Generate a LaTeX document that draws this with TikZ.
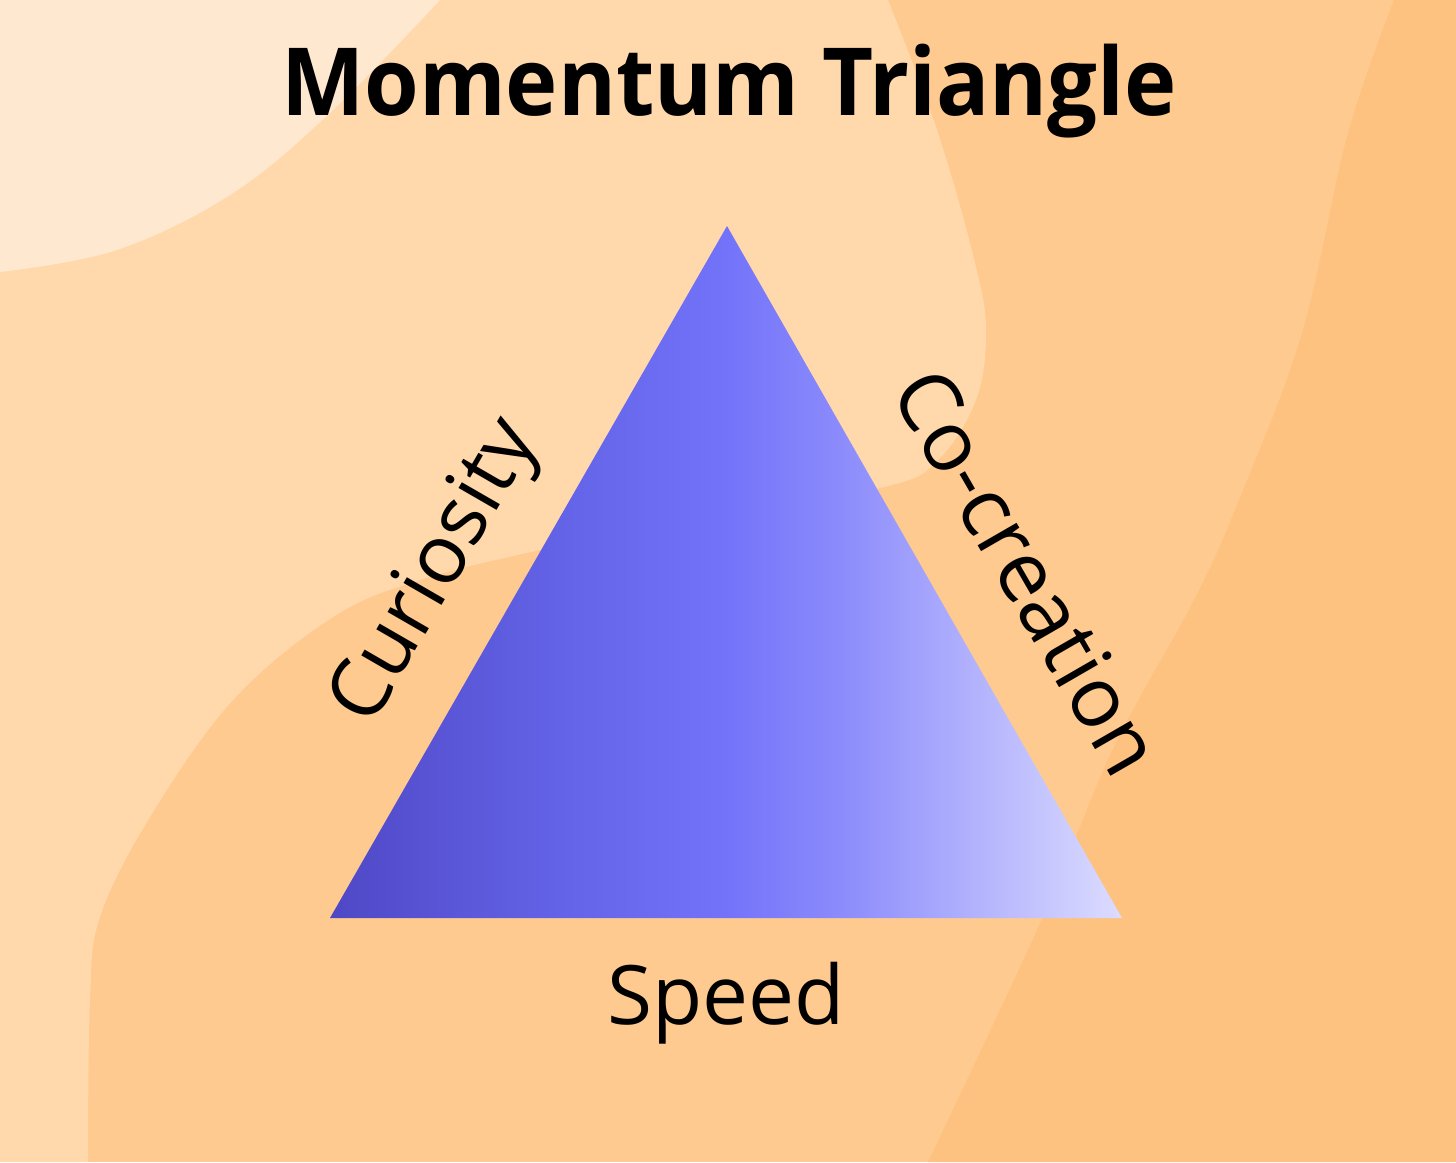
\documentclass[tikz,border=0pt]{standalone}
\usepackage{fontspec}
\setmainfont{Open Sans}
\newfontfamily\titlefont[FakeStretch=0.94]{Open Sans}
\usetikzlibrary{calc}
\definecolor{bgLightest}{RGB}{255,232,208}
\definecolor{bgLight}{RGB}{255,217,171}
\definecolor{bgMid}{RGB}{255,202,143}
\definecolor{bgDark}{RGB}{254,194,128}
\pgfdeclarehorizontalshading{trishade}{100bp}{%
  rgb(0bp)=(0.310,0.282,0.776);
  rgb(25bp)=(0.310,0.282,0.776);
  rgb(40bp)=(0.392,0.392,0.910);
  rgb(50bp)=(0.451,0.451,0.980);
  rgb(57.5bp)=(0.550,0.550,0.988);
  rgb(65bp)=(0.686,0.686,0.992);
  rgb(75bp)=(0.863,0.863,1.000);
  rgb(100bp)=(0.863,0.863,1.000)}
\tikzset{
  lbl/.style={font=\fontsize{82}{82}\selectfont, text=black, inner sep=0pt},
  ttl/.style={font=\titlefont\fontsize{94}{94}\selectfont\bfseries, text=black, inner sep=0pt}
}
\begin{document}
\begin{tikzpicture}[x=1pt,y=-1pt]
\useasboundingbox (0,0) rectangle (1456,1162);
% background layers
\fill[bgMid] (0,0) rectangle (1456,1162);
\fill[bgDark] plot[smooth, tension=0.6] coordinates {(1394,0) (1348,133) (1302,333) (1239,500) (1194,600) (1113,749) (1042,919) (928,1162)} -- (1456,1162) -- (1456,0) -- cycle;
\fill[bgLight] (0,0) -- plot[smooth, tension=0.6] coordinates {(888,0) (938,133) (976,267) (986,333) (976,400) (938,460) (884,487) (700,518) (540,550) (420,580) (333,617) (233,700) (150,817) (100,917) (90,1000) (88,1162)} -- (0,1162) -- cycle;
\fill[bgLightest] (0,0) -- plot[smooth, tension=0.6] coordinates {(440,0) (333,110) (233,193) (117,250) (0,272)} -- cycle;
% triangle
\coordinate (top) at (727,226);
\coordinate (bl) at (330,918);
\coordinate (br) at (1122,918);
\path[shading=trishade] (top) -- (br) -- (bl) -- cycle;
% labels
\node[ttl, anchor=base] (title) at (729,115) {Momentum Triangle};
\node[lbl, anchor=base] (speed) at (726,1024) {Speed};
\node[lbl, anchor=base, rotate=60] (curiosity) at (455,583) {Curiosity};
\node[lbl, anchor=base, rotate=-60, font=\fontsize{84}{84}\selectfont] (cocreation) at (1002,587) {Co-creation};
\end{tikzpicture}
\end{document}
